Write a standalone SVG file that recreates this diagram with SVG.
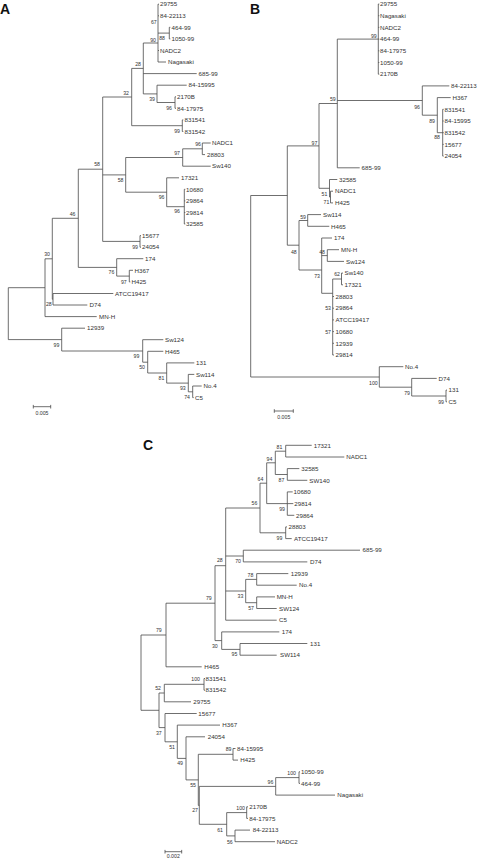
<svg xmlns="http://www.w3.org/2000/svg" width="477" height="859" viewBox="0 0 477 859">
<style>
.br{fill:none;stroke:#4a4a4a;stroke-width:0.8}
.lf{font-family:"Liberation Sans",Arial,sans-serif;font-size:6.2px;fill:#333}
.bs{font-family:"Liberation Sans",Arial,sans-serif;font-size:5.2px;fill:#333;text-anchor:end}
.pl{font-family:"Liberation Sans",Arial,sans-serif;font-size:14px;font-weight:bold;fill:#111}
.sc{font-family:"Liberation Sans",Arial,sans-serif;font-size:5.2px;fill:#333;text-anchor:middle}
</style>
<rect width="477" height="859" fill="#fff"/>

<!-- PANEL A -->
<g id="panel-A">
<text class="pl" x="0" y="14">A</text>
<g id="A-connectors">
<path class="br" d="M8.3,287.7V339.6M8.3,287.7H45M8.3,339.6H61.7
M45,258.8V316.6M45,258.8H52.3M45,316.6H96.7
M52.3,218.3V299.2M52.3,218.3H78.3M52.3,299.2H53
M53,293.5V305M53,293.5H113.3M53,305H87.3
M78.3,169.2V267.4M78.3,169.2H102.7M78.3,267.4H116.7
M102.7,97V241.4M102.7,97H131.7M102.7,174.9H125.7M102.7,241.4H140
M131.7,68.4V125.7M131.7,68.4H143.3M131.7,125.7H182.3
M143.3,43V93.9M143.3,43H158M143.3,73.6H196.7M143.3,93.9H157
M158,4.2V62M158,4.2H159M158,15.8H159M158,33.1H169.3M158,50.5H159M158,62H166
M169.3,27.3V38.9M169.3,27.3H170.3M169.3,38.9H170.3
M157,85.2V102.5M157,85.2H186.7M157,102.5H175
M175,96.8V108.3M175,96.8H176M175,108.3H176
M182.3,119.9V131.5M182.3,119.9H183.3M182.3,131.5H183.3
M125.7,157.5V192.2M125.7,157.5H182.7M125.7,192.2H166.7
M182.7,148.8V166.2M182.7,148.8H202.3M182.7,166.2H210.7
M202.3,143V154.6M202.3,143H210.7M202.3,154.6H205
M166.7,177.8V206.7M166.7,177.8H179M166.7,206.7H184.3
M184.3,189.3V224M184.3,189.3H185.3M184.3,200.9H185.3M184.3,212.5H185.3M184.3,224H185.3
M140,235.6V247.2M140,235.6H141M140,247.2H141
M116.7,258.7V276.1M116.7,258.7H143.3M116.7,276.1H129.3
M129.3,270.3V281.9M129.3,270.3H133M129.3,281.9H130.3
M61.7,328.2V351M61.7,328.2H85M61.7,351H142.7
M142.7,339.7V362.2M142.7,339.7H163.3M142.7,362.2H147.7
M147.7,351.3V373M147.7,351.3H163.3M147.7,373H166.7
M166.7,362.9V383.1M166.7,362.9H194.3M166.7,383.1H188.3
M188.3,374.4V391.8M188.3,374.4H194.3M188.3,391.8H192.7
M192.7,386V397.6M192.7,386H201.7M192.7,397.6H193.7"/>
<path class="br" d="M33.3,406.7H50.7M33.3,404.9V408.5M50.7,404.9V408.5"/>
</g>
<text class="sc" x="42" y="414.6">0.005</text>
<g id="A-leaves">
<g id="A-29755"><text class="lf" x="160" y="6.4">29755</text></g>
<g id="A-84-22113"><text class="lf" x="160" y="18">84-22113</text></g>
<g id="A-464-99"><text class="lf" x="171.5" y="29.5">464-99</text></g>
<g id="A-1050-99"><text class="lf" x="171.5" y="41.1">1050-99</text></g>
<g id="A-NADC2"><text class="lf" x="160" y="52.7">NADC2</text></g>
<g id="A-Nagasaki"><text class="lf" x="168" y="64.2">Nagasaki</text></g>
<g id="A-685-99"><text class="lf" x="198.5" y="75.8">685-99</text></g>
<g id="A-84-15995"><text class="lf" x="188.5" y="87.4">84-15995</text></g>
<g id="A-2170B"><text class="lf" x="177" y="99">2170B</text></g>
<g id="A-84-17975"><text class="lf" x="177" y="110.5">84-17975</text></g>
<g id="A-831541"><text class="lf" x="184.5" y="122.1">831541</text></g>
<g id="A-831542"><text class="lf" x="184.5" y="133.7">831542</text></g>
<g id="A-NADC1"><text class="lf" x="212" y="145.2">NADC1</text></g>
<g id="A-28803"><text class="lf" x="207" y="156.8">28803</text></g>
<g id="A-Sw140"><text class="lf" x="212" y="168.4">Sw140</text></g>
<g id="A-17321"><text class="lf" x="181" y="180">17321</text></g>
<g id="A-10680"><text class="lf" x="186" y="191.5">10680</text></g>
<g id="A-29864"><text class="lf" x="186" y="203.1">29864</text></g>
<g id="A-29814"><text class="lf" x="186" y="214.7">29814</text></g>
<g id="A-32585"><text class="lf" x="186" y="226.2">32585</text></g>
<g id="A-15677"><text class="lf" x="142" y="237.8">15677</text></g>
<g id="A-24054"><text class="lf" x="142" y="249.4">24054</text></g>
<g id="A-174"><text class="lf" x="145" y="260.9">174</text></g>
<g id="A-H367"><text class="lf" x="134.5" y="272.5">H367</text></g>
<g id="A-H425"><text class="lf" x="131.5" y="284.1">H425</text></g>
<g id="A-ATCC19417"><text class="lf" x="115" y="295.7">ATCC19417</text></g>
<g id="A-D74"><text class="lf" x="89.5" y="307.2">D74</text></g>
<g id="A-MN-H"><text class="lf" x="99" y="318.8">MN-H</text></g>
<g id="A-12939"><text class="lf" x="87" y="330.4">12939</text></g>
<g id="A-Sw124"><text class="lf" x="165" y="341.9">Sw124</text></g>
<g id="A-H465"><text class="lf" x="165" y="353.5">H465</text></g>
<g id="A-131"><text class="lf" x="196" y="365.1">131</text></g>
<g id="A-Sw114"><text class="lf" x="196" y="376.6">Sw114</text></g>
<g id="A-No.4"><text class="lf" x="203.5" y="388.2">No.4</text></g>
<g id="A-C5"><text class="lf" x="195" y="399.8">C5</text></g>
</g>
<g id="A-bootstrap">
<text class="bs" x="156.7" y="24.1">67</text>
<text class="bs" x="156" y="41.8">90</text>
<text class="bs" x="165" y="39.5">88</text>
<text class="bs" x="141" y="65.8">28</text>
<text class="bs" x="155" y="100.8">39</text>
<text class="bs" x="172" y="109.8">96</text>
<text class="bs" x="129" y="94.5">32</text>
<text class="bs" x="180" y="132.8">99</text>
<text class="bs" x="100" y="166.1">58</text>
<text class="bs" x="123.5" y="181.8">58</text>
<text class="bs" x="180" y="155.1">97</text>
<text class="bs" x="201" y="145.8">96</text>
<text class="bs" x="164.5" y="199.1">96</text>
<text class="bs" x="180" y="213.1">96</text>
<text class="bs" x="138" y="248.8">99</text>
<text class="bs" x="75.5" y="215.8">46</text>
<text class="bs" x="114.3" y="274.1">76</text>
<text class="bs" x="126.7" y="283.5">97</text>
<text class="bs" x="50" y="256.1">30</text>
<text class="bs" x="51.7" y="306.1">28</text>
<text class="bs" x="59.3" y="346.8">99</text>
<text class="bs" x="139.3" y="357.8">99</text>
<text class="bs" x="145" y="368.8">50</text>
<text class="bs" x="164.3" y="379.8">81</text>
<text class="bs" x="185.7" y="390.1">93</text>
<text class="bs" x="190" y="399.1">74</text>
</g>
</g>

<!-- PANEL B -->
<g id="panel-B">
<text class="pl" x="250" y="14">B</text>
<g id="B-connectors">
<path class="br" d="M250.7,195.5V377M250.7,195.5H287.3M250.7,377H379.3
M287.3,145.9V245.2M287.3,145.9H319M287.3,245.2H299
M319,103.5V188.3M319,103.5H337.3M319,188.3H329.5
M337.3,39.1V167.8M337.3,39.1H378.3M337.3,100.5H422.3M337.3,167.8H359.7
M378.3,4V74.2M378.3,4H379.3M378.3,15.7H379.3M378.3,27.4H379.3M378.3,39.1H379.3M378.3,50.8H379.3M378.3,62.5H379.3M378.3,74.2H379.3
M422.3,85.9V115.2M422.3,85.9H449.3M422.3,115.2H437.3
M437.3,97.6V132.7M437.3,97.6H450.7M437.3,132.7H442.7
M442.7,109.3V156.1M442.7,109.3H443.7M442.7,121H443.7M442.7,132.7H443.7M442.7,144.4H443.7M442.7,156.1H443.7
M329.5,179.5V197M329.5,179.5H337.3M329.5,197H330.5
M330.5,191.2V202.9M330.5,191.2H333M330.5,202.9H333
M299,220.5V270M299,220.5H307.7M299,270H321.7
M307.7,214.6V226.3M307.7,214.6H321M307.7,226.3H329.3
M321.7,238V293.3M321.7,238H332M321.7,255.6H327.3M321.7,293.3H332.7
M327.3,249.7V261.4M327.3,249.7H339M327.3,261.4H344
M332.7,279V355M332.7,279H341.5M332.7,296.5H334M332.7,308.2H334M332.7,319.9H334M332.7,331.6H334M332.7,343.3H334M332.7,355H334
M341.5,273.1V284.8M341.5,273.1H343M341.5,284.8H343
M379.3,366.7V387.2M379.3,366.7H403.3M379.3,387.2H411.7
M411.7,378.4V396M411.7,378.4H436.7M411.7,396H446
M446,390.1V401.8M446,390.1H447M446,401.8H447"/>
<path class="br" d="M274.3,411H293.3M274.3,409.2V412.8M293.3,409.2V412.8"/>
</g>
<text class="sc" x="283.8" y="418.5">0.005</text>
<g id="B-leaves">
<g id="B-29755"><text class="lf" x="380" y="6.2">29755</text></g>
<g id="B-Nagasaki"><text class="lf" x="380" y="17.9">Nagasaki</text></g>
<g id="B-NADC2"><text class="lf" x="380" y="29.6">NADC2</text></g>
<g id="B-464-99"><text class="lf" x="380" y="41.3">464-99</text></g>
<g id="B-84-17975"><text class="lf" x="380" y="53">84-17975</text></g>
<g id="B-1050-99"><text class="lf" x="380" y="64.7">1050-99</text></g>
<g id="B-2170B"><text class="lf" x="380" y="76.4">2170B</text></g>
<g id="B-84-22113"><text class="lf" x="451" y="88.1">84-22113</text></g>
<g id="B-H367"><text class="lf" x="452.5" y="99.8">H367</text></g>
<g id="B-831541"><text class="lf" x="444.5" y="111.5">831541</text></g>
<g id="B-84-15995"><text class="lf" x="444.5" y="123.2">84-15995</text></g>
<g id="B-831542"><text class="lf" x="444.5" y="134.9">831542</text></g>
<g id="B-15677"><text class="lf" x="444.5" y="146.6">15677</text></g>
<g id="B-24054"><text class="lf" x="444.5" y="158.3">24054</text></g>
<g id="B-685-99"><text class="lf" x="361.5" y="170">685-99</text></g>
<g id="B-32585"><text class="lf" x="339" y="181.7">32585</text></g>
<g id="B-NADC1"><text class="lf" x="335" y="193.4">NADC1</text></g>
<g id="B-H425"><text class="lf" x="335" y="205.1">H425</text></g>
<g id="B-Sw114"><text class="lf" x="323" y="216.8">Sw114</text></g>
<g id="B-H465"><text class="lf" x="331" y="228.5">H465</text></g>
<g id="B-174"><text class="lf" x="334" y="240.2">174</text></g>
<g id="B-MN-H"><text class="lf" x="341" y="251.9">MN-H</text></g>
<g id="B-Sw124"><text class="lf" x="346" y="263.6">Sw124</text></g>
<g id="B-Sw140"><text class="lf" x="344.5" y="275.3">Sw140</text></g>
<g id="B-17321"><text class="lf" x="344.5" y="287">17321</text></g>
<g id="B-28803"><text class="lf" x="335.5" y="298.7">28803</text></g>
<g id="B-29864"><text class="lf" x="335.5" y="310.4">29864</text></g>
<g id="B-ATCC19417"><text class="lf" x="335.5" y="322.1">ATCC19417</text></g>
<g id="B-10680"><text class="lf" x="335.5" y="333.8">10680</text></g>
<g id="B-12939"><text class="lf" x="335.5" y="345.5">12939</text></g>
<g id="B-29814"><text class="lf" x="335.5" y="357.2">29814</text></g>
<g id="B-No.4"><text class="lf" x="405" y="368.9">No.4</text></g>
<g id="B-D74"><text class="lf" x="438.5" y="380.6">D74</text></g>
<g id="B-131"><text class="lf" x="448.5" y="392.3">131</text></g>
<g id="B-C5"><text class="lf" x="448.5" y="404">C5</text></g>
</g>
<g id="B-bootstrap">
<text class="bs" x="376.7" y="37.5">99</text>
<text class="bs" x="335.7" y="101.1">59</text>
<text class="bs" x="420" y="108.5">96</text>
<text class="bs" x="435" y="122.5">89</text>
<text class="bs" x="440" y="138.5">88</text>
<text class="bs" x="317.3" y="144.5">97</text>
<text class="bs" x="327.3" y="195.8">51</text>
<text class="bs" x="329.3" y="204.1">71</text>
<text class="bs" x="306" y="218.5">59</text>
<text class="bs" x="325" y="254.1">48</text>
<text class="bs" x="296.7" y="253.5">48</text>
<text class="bs" x="340" y="276.1">62</text>
<text class="bs" x="320" y="277.8">73</text>
<text class="bs" x="331" y="310.1">53</text>
<text class="bs" x="331" y="333.5">57</text>
<text class="bs" x="377.7" y="385.1">100</text>
<text class="bs" x="410" y="395.1">79</text>
<text class="bs" x="444" y="403.8">99</text>
</g>
</g>

<!-- PANEL C -->
<g id="panel-C">
<text class="pl" x="143" y="450">C</text>
<g id="C-connectors">
<path class="br" d="M141,635V710.3M141,635H166M141,710.3H159
M166,603.2V666.8M166,603.2H215M166,666.8H201.7
M215,565.7V640.6M215,565.7H225.7M215,640.6H221.7
M225.7,508V620.2M225.7,508H260M225.7,556H243.3M225.7,591H245.7M225.7,620.2H276.7
M260,483.2V532.8M260,483.2H266.7M260,532.8H285.7
M266.7,462.8V503.6M266.7,462.8H275.3M266.7,503.6H287.3
M275.3,451.2V474.5M275.3,451.2H285.7M275.3,474.5H287.3
M285.7,445.3V457M285.7,445.3H311.7M285.7,457H344.3
M287.3,468.6V480.3M287.3,468.6H299.3M287.3,480.3H307.3
M287.3,491.9V515.3M287.3,491.9H292.7M287.3,503.6H293.3M287.3,515.3H294.3
M285.7,526.9V538.6M285.7,526.9H287M285.7,538.6H291.7
M243.3,550.2V561.9M243.3,550.2H360M243.3,561.9H307.3
M245.7,579.4V602.7M245.7,579.4H256.7M245.7,602.7H256.7
M256.7,573.6V585.2M256.7,573.6H288.3M256.7,585.2H296.7
M256.7,596.9V608.5M256.7,596.9H275M256.7,608.5H276.7
M221.7,631.9V649.4M221.7,631.9H279.3M221.7,649.4H240
M240,643.5V655.2M240,643.5H307.3M240,655.2H276.7
M159,693V727.6M159,693H164.3M159,727.6H165
M164.3,684.3V701.8M164.3,684.3H204M164.3,701.8H191
M204,678.5V690.2M204,678.5H205M204,690.2H205
M165,713.5V741.8M165,713.5H196.7M165,741.8H177.3
M177.3,725.1V758.4M177.3,725.1H220M177.3,758.4H186
M186,736.8V779.9M186,736.8H205M186,779.9H198.3
M198.3,754.3V805.4M198.3,754.3H233M198.3,805.4H199.3
M199.3,786.4V824.3M199.3,786.4H275.7M199.3,824.3H226.7
M233,748.5V760.1M233,748.5H235.5M233,760.1H238
M275.7,777.6V795.1M275.7,777.6H299M275.7,795.1H335
M299,771.8V783.4M299,771.8H300M299,783.4H300
M226.7,812.6V835.9M226.7,812.6H246.7M226.7,835.9H235
M246.7,806.8V818.4M246.7,806.8H248M246.7,818.4H248
M235,830.1V841.7M235,830.1H250M235,841.7H275"/>
<path class="br" d="M165,851.7H181.7M165,849.9V853.5M181.7,849.9V853.5"/>
</g>
<text class="sc" x="173.3" y="858.4">0.002</text>
<g id="C-leaves">
<g id="C-17321"><text class="lf" x="313.7" y="447.5">17321</text></g>
<g id="C-NADC1"><text class="lf" x="346.3" y="459.2">NADC1</text></g>
<g id="C-32585"><text class="lf" x="301.3" y="470.8">32585</text></g>
<g id="C-SW140"><text class="lf" x="309.3" y="482.5">SW140</text></g>
<g id="C-10680"><text class="lf" x="293.5" y="494.1">10680</text></g>
<g id="C-29814"><text class="lf" x="294.3" y="505.8">29814</text></g>
<g id="C-29864"><text class="lf" x="296" y="517.5">29864</text></g>
<g id="C-28803"><text class="lf" x="288.5" y="529.1">28803</text></g>
<g id="C-ATCC19417"><text class="lf" x="294" y="540.8">ATCC19417</text></g>
<g id="C-685-99"><text class="lf" x="362.5" y="552.4">685-99</text></g>
<g id="C-D74"><text class="lf" x="310" y="564.1">D74</text></g>
<g id="C-12939"><text class="lf" x="290.7" y="575.8">12939</text></g>
<g id="C-No.4"><text class="lf" x="299" y="587.4">No.4</text></g>
<g id="C-MN-H"><text class="lf" x="276.7" y="599.1">MN-H</text></g>
<g id="C-SW124"><text class="lf" x="279" y="610.7">SW124</text></g>
<g id="C-C5"><text class="lf" x="279" y="622.4">C5</text></g>
<g id="C-174"><text class="lf" x="281.7" y="634.1">174</text></g>
<g id="C-131"><text class="lf" x="310" y="645.7">131</text></g>
<g id="C-SW114"><text class="lf" x="280" y="657.4">SW114</text></g>
<g id="C-H465"><text class="lf" x="204.3" y="669">H465</text></g>
<g id="C-831541"><text class="lf" x="205.5" y="680.7">831541</text></g>
<g id="C-831542"><text class="lf" x="205.5" y="692.4">831542</text></g>
<g id="C-29755"><text class="lf" x="193.3" y="704">29755</text></g>
<g id="C-15677"><text class="lf" x="198.3" y="715.7">15677</text></g>
<g id="C-H367"><text class="lf" x="222.3" y="727.3">H367</text></g>
<g id="C-24054"><text class="lf" x="207.7" y="739">24054</text></g>
<g id="C-84-15995"><text class="lf" x="237" y="750.7">84-15995</text></g>
<g id="C-H425"><text class="lf" x="240.3" y="762.3">H425</text></g>
<g id="C-1050-99"><text class="lf" x="301" y="774">1050-99</text></g>
<g id="C-464-99"><text class="lf" x="301" y="785.6">464-99</text></g>
<g id="C-Nagasaki"><text class="lf" x="337.3" y="797.3">Nagasaki</text></g>
<g id="C-2170B"><text class="lf" x="249.3" y="809">2170B</text></g>
<g id="C-84-17975"><text class="lf" x="249.3" y="820.6">84-17975</text></g>
<g id="C-84-22113"><text class="lf" x="252.7" y="832.3">84-22113</text></g>
<g id="C-NADC2"><text class="lf" x="276.7" y="843.9">NADC2</text></g>
</g>
<g id="C-bootstrap">
<text class="bs" x="282.3" y="448.5">81</text>
<text class="bs" x="272.3" y="460.8">94</text>
<text class="bs" x="284.3" y="482.1">87</text>
<text class="bs" x="263.3" y="481.1">64</text>
<text class="bs" x="285" y="511.1">99</text>
<text class="bs" x="257.3" y="505.1">56</text>
<text class="bs" x="282.3" y="540.1">99</text>
<text class="bs" x="222.7" y="561.8">28</text>
<text class="bs" x="241" y="562.8">70</text>
<text class="bs" x="253.3" y="576.8">78</text>
<text class="bs" x="243.3" y="597.8">33</text>
<text class="bs" x="254" y="609.5">57</text>
<text class="bs" x="211.7" y="600.1">79</text>
<text class="bs" x="161.7" y="632.1">79</text>
<text class="bs" x="217.7" y="647.8">30</text>
<text class="bs" x="237.3" y="656.1">95</text>
<text class="bs" x="200" y="681.1">100</text>
<text class="bs" x="161" y="690.1">52</text>
<text class="bs" x="161.7" y="734.5">37</text>
<text class="bs" x="175" y="748.5">51</text>
<text class="bs" x="183" y="765.1">49</text>
<text class="bs" x="231.5" y="751.1">89</text>
<text class="bs" x="196" y="786.8">55</text>
<text class="bs" x="198" y="811.8">27</text>
<text class="bs" x="273.3" y="783.5">96</text>
<text class="bs" x="296" y="774.5">100</text>
<text class="bs" x="245" y="809.5">100</text>
<text class="bs" x="223" y="831.8">61</text>
<text class="bs" x="232.7" y="843.5">56</text>
</g>
</g>
</svg>
